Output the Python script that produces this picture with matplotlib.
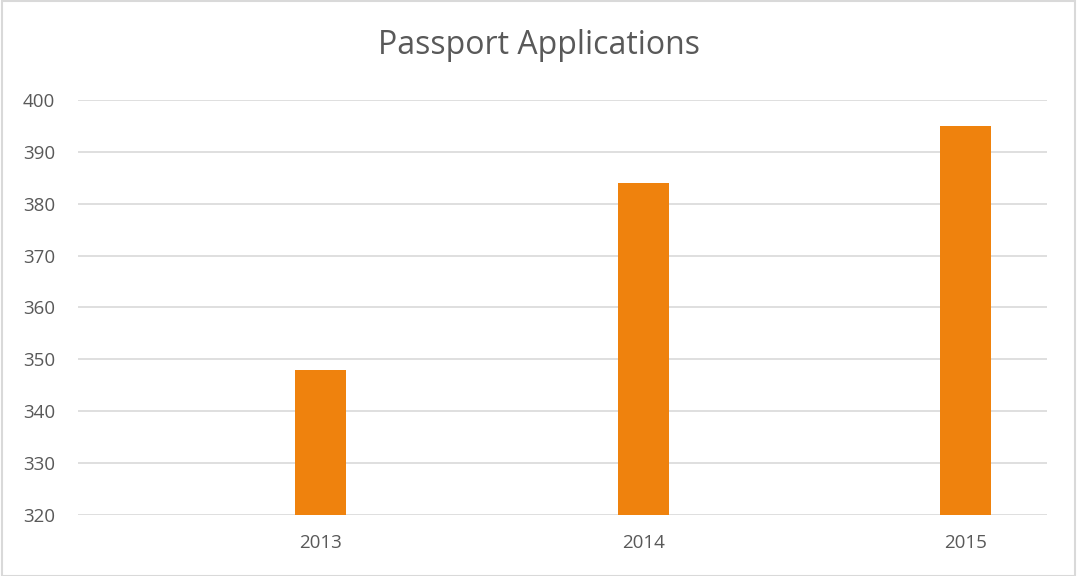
import matplotlib
matplotlib.use("Agg")
import matplotlib.pyplot as plt
from matplotlib.patches import Rectangle

years = [2013, 2014, 2015]
applications = [348, 384, 395]
yticks = [320, 330, 340, 350, 360, 370, 380, 390, 400]

W, H = 1077, 576
fig = plt.figure(figsize=(W / 100, H / 100), dpi=100)
plt.rcParams['font.family'] = ['Open Sans', 'DejaVu Sans']

ax = fig.add_axes([78 / W, 1 - 515 / H, (1046.7 - 78) / W, (515 - 100) / H])
ax.bar(years, applications, width=0.158, color='#EF820D', zorder=3)
ax.set_xlim(2012.25, 2015.25)
ax.set_ylim(320, 400)
ax.set_yticks(yticks)
ax.set_xticks(years)
ax.set_xticklabels([str(y) for y in years])
ax.grid(axis='y', color='#D9D9D9', linewidth=1.2, zorder=0)
for s in ax.spines.values():
    s.set_visible(False)
ax.tick_params(axis='both', length=0, labelsize=13.5, labelcolor='#595959')
ax.tick_params(axis='y', pad=16.5)
ax.tick_params(axis='x', pad=14)

fig.text(538.5 / W, 1 - 46 / H, 'Passport Applications', ha='center', va='center',
         fontsize=23, color='#595959')

fig.patches.append(Rectangle((1.5 / W, 0), (1075 - 1.5) / W, 1 - 0.5 / H, transform=fig.transFigure,
                             fill=False, edgecolor='#D9D9D9', linewidth=1.5))

fig.savefig('out.png', dpi=100)
